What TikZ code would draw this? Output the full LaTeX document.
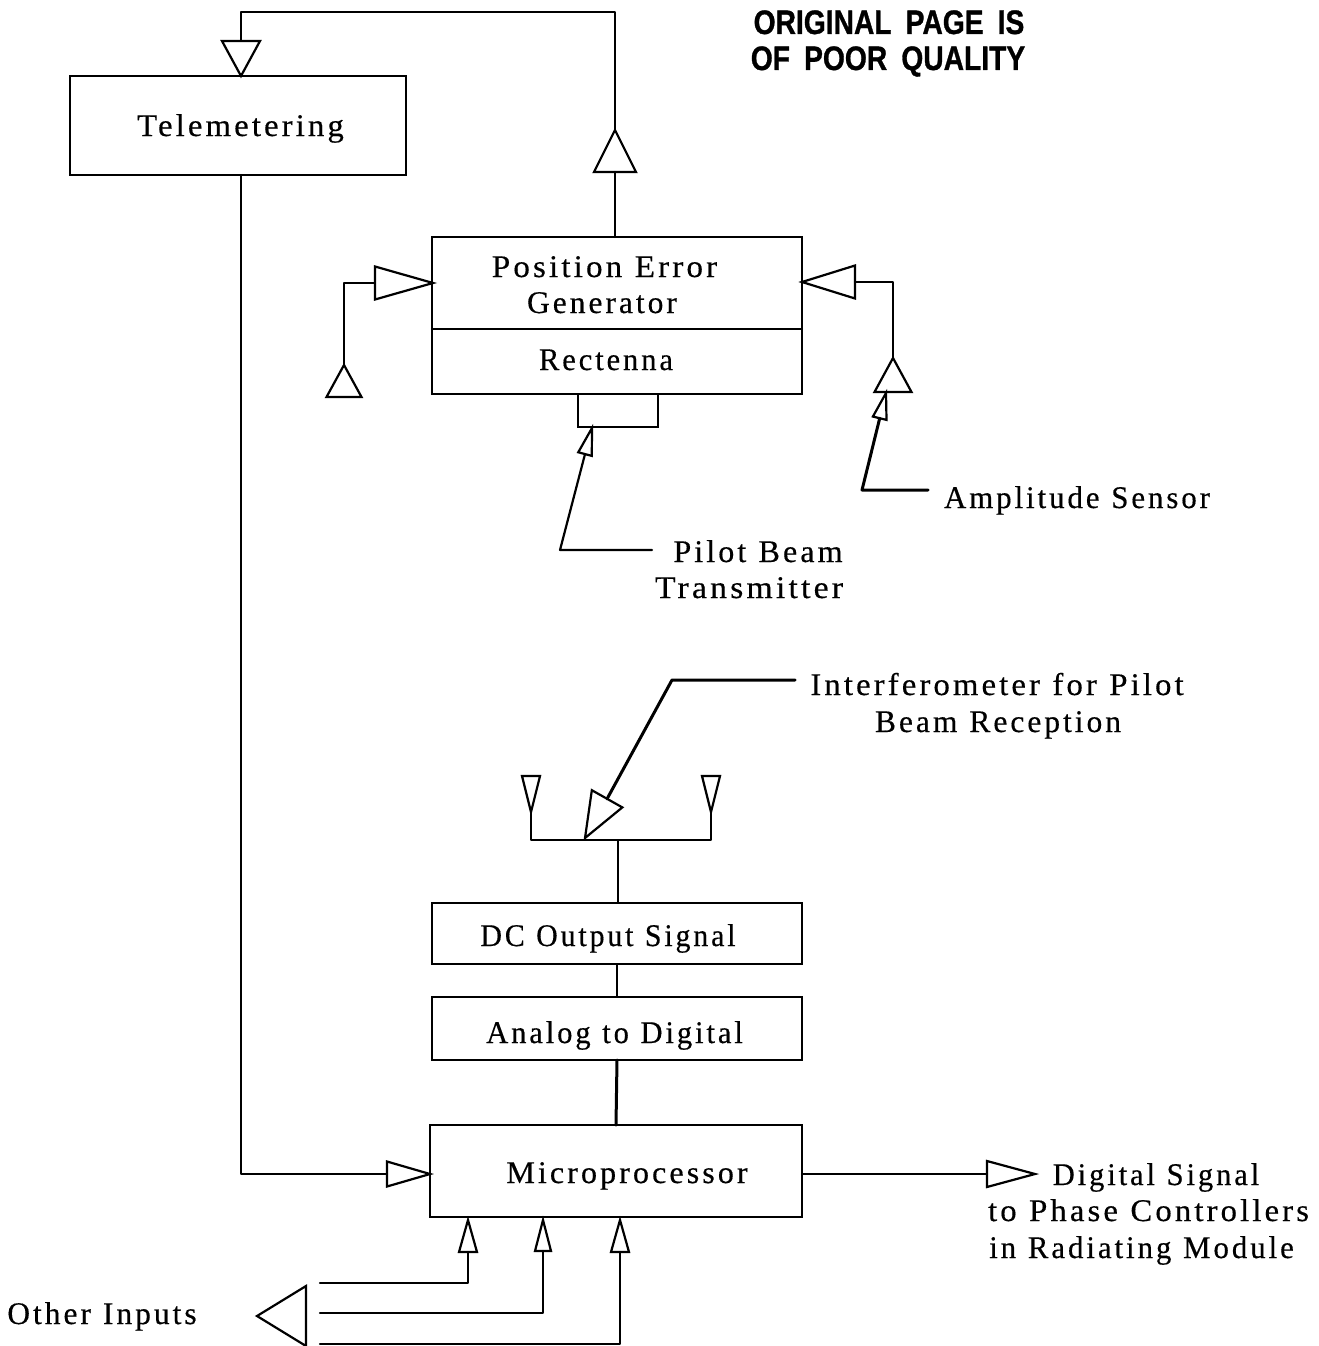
\documentclass[tikz,border=0pt]{standalone}
\usepackage{fontspec}
\setmainfont[LetterSpace=9.5,WordSpace=1.1,FakeBold=0.4]{Liberation Serif}
\newfontfamily\stampfont[WordSpace=1.8,FakeBold=1]{Liberation Sans}
\usetikzlibrary{shapes.geometric}
\tikzset{
  ln/.style={line width=2.2pt,line join=round,line cap=round},
  fine/.style={line width=1.7pt,line join=round,line cap=round},
  heavy/.style={line width=3pt,line join=round,line cap=round},
  boxn/.style={draw,line width=2.2pt,minimum width=#1,inner sep=0,outer sep=0},
  ant/.style n args={3}{shape=isosceles triangle,isosceles triangle stretches,draw,
     line width=2.2pt,line join=miter,fill=white,inner sep=0,outer sep=0,
     minimum height=#1,minimum width=#2,anchor=apex,rotate=#3},
  lab/.style={anchor=base,inner sep=0,xscale=#1,font=\fontsize{31.5}{34}\selectfont},
  lab/.default=1,
  stamp/.style={anchor=base,inner sep=0,xscale=.83,font=\fontsize{34}{38}\selectfont\stampfont\bfseries},
}
\begin{document}
\begin{tikzpicture}[x=1pt,y=-1pt]
\useasboundingbox[fill=white] (0,0) rectangle (1319,1346);
% boxes
\node[boxn=336pt,minimum height=99pt] (tele) at (238,125.5) {};
\node[boxn=370pt,minimum height=157pt] (pos) at (617,315.5) {};
\node[boxn=80pt,minimum height=33pt] (pilotbox) at (618,410.5) {};
\node[boxn=370pt,minimum height=61pt] (dc) at (617,933.5) {};
\node[boxn=370pt,minimum height=63pt] (adc) at (617,1028.5) {};
\node[boxn=372pt,minimum height=92pt] (micro) at (616,1171) {};
\coordinate (divl) at (432,329);
\coordinate (divr) at (802,329);
\draw[ln] (divl) -- (divr);
% coordinates
\coordinate (topl) at (241,12);
\coordinate (topr) at (615,12);
\coordinate (pilotelbow) at (560,550);
\coordinate (pilotend) at (652,550);
\coordinate (ampelbow) at (862,490);
\coordinate (ampend) at (928,490);
\coordinate (intelbow) at (672,680);
\coordinate (intend) at (795,680);
\coordinate (bus) at (618,840);
\coordinate (in1) at (320,1283);
\coordinate (in2) at (320,1313);
\coordinate (in3) at (320,1344);
% triangles
\node[ant={35pt}{38pt}{-90}] (t1) at (241,76) {};
\node[ant={42pt}{42pt}{90}] (t2) at (615,130) {};
\node[ant={58pt}{33pt}{0}] (t3) at (433,283) {};
\node[ant={53pt}{33pt}{180}] (t4) at (802,282) {};
\node[ant={32pt}{35pt}{90}] (t5) at (344,365) {};
\node[ant={34pt}{37pt}{90}] (t6) at (893,358) {};
\node[ant={27pt}{14pt}{75}] (t7) at (592,428) {};
\node[ant={26pt}{14pt}{76}] (t8) at (886,393) {};
\node[ant={45pt}{35pt}{-119.4}] (t9) at (585,838) {};
\node[ant={36pt}{18pt}{-90}] (t10) at (531,812) {};
\node[ant={36pt}{18pt}{-90}] (t11) at (711,812) {};
\node[ant={43pt}{25pt}{0}] (t12) at (430,1174) {};
\node[ant={48pt}{26pt}{0}] (t13) at (1035,1174) {};
\node[ant={32pt}{18pt}{90}] (t14) at (468,1220) {};
\node[ant={31pt}{16pt}{90}] (t15) at (543,1220) {};
\node[ant={32pt}{18pt}{90}] (t16) at (620,1220) {};
\node[ant={49pt}{60pt}{180}] (t17) at (257,1316) {};
% connectors
\draw[fine] (t1.lower side) -- (topl) -- (topr) -- (t2.apex);
\draw[ln] (t2.lower side) -- (t2.lower side |- pos.north);
\draw[ln] (t1.apex |- tele.south) |- (t12.lower side);
\draw[fine] (t5.apex) |- (t3.lower side);
\draw[ln] (t6.apex) |- (t4.lower side);
\draw[ln] (pilotend) -- (pilotelbow) -- (t7.lower side);
\draw[heavy] (ampend) -- (ampelbow) -- (t8.lower side);
\draw[heavy] (intend) -- (intelbow) -- (t9.lower side);
\draw[fine] (t10.apex) |- (bus);
\draw[fine] (t11.apex) |- (bus);
\draw[fine] (bus) -- (bus |- dc.north);
\draw[fine] (dc.south) -- (adc.north);
\draw[heavy] (adc.south) -- (micro.north);
\draw[ln] (micro.east |- t13.lower side) -- (t13.lower side);
\draw[ln] (in1) -| (t14.lower side);
\draw[ln] (in2) -| (t15.lower side);
\draw[ln] (in3) -| (t16.lower side);
% labels
\node[lab=1.04] (ltele) at (240.5,136) {Telemetering};
\node[lab=1.05] (lpos1) at (604.5,277) {Position Error};
\node[lab] (lpos2) at (602,313) {Generator};
\node[lab=.97] (lrect) at (606,370) {Rectenna};
\node[lab=1.02] (lpil1) at (758,562) {Pilot Beam};
\node[lab=1.07] (lpil2) at (749,598) {Transmitter};
\node[lab=.98] (lamp) at (1077,508) {Amplitude Sensor};
\node[lab=1.04] (lint1) at (997,695) {Interferometer for Pilot};
\node[lab] (lint2) at (998,732) {Beam Reception};
\node[lab=.95] (ldc) at (608,946) {DC Output Signal};
\node[lab=.97] (ladc) at (614.5,1043) {Analog to Digital};
\node[lab=1.02] (lmic) at (627,1183) {Microprocessor};
\node[lab=.97] (ldig1) at (1156,1185) {Digital Signal};
\node[lab=1.04] (ldig2) at (1148.5,1221) {to Phase Controllers};
\node[lab=.98] (ldig3) at (1141.5,1258) {in Radiating Module};
\node[lab] (loth) at (102,1324) {Other Inputs};
\node[stamp] (st1) at (889,34) {ORIGINAL PAGE IS};
\node[stamp] (st2) at (888,70) {OF POOR QUALITY};
\end{tikzpicture}
\end{document}
